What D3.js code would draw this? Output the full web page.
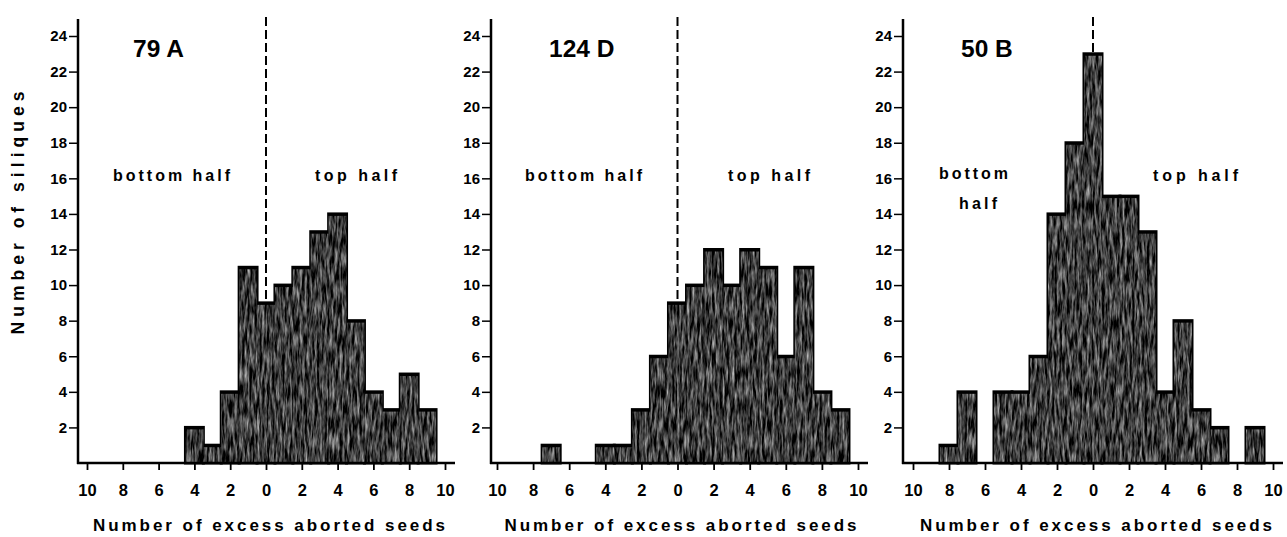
<!DOCTYPE html>
<html>
<head>
<meta charset="utf-8">
<script src="https://cdn.jsdelivr.net/npm/d3@7"></script>
<style>
  body { margin: 0; background: #fff; }
  svg text { font-family: "Liberation Sans", Arial, sans-serif; fill: #000; }
</style>
</head>
<body>
<div id="chart"></div>
<script>
// excess aborted seeds: negative = bottom half, positive = top half
const bins = [-10, -9, -8, -7, -6, -5, -4, -3, -2, -1, 0, 1, 2, 3, 4, 5, 6, 7, 8, 9, 10];
const siliques79A  = [0, 0, 0, 0, 0, 0, 2, 1, 4, 11, 9, 10, 11, 13, 14, 8, 4, 3, 5, 3, 0];
const siliques124D = [0, 0, 0, 1, 0, 0, 1, 1, 3, 6, 9, 10, 12, 10, 12, 11, 6, 11, 4, 3, 0];
const siliques50B  = [0, 0, 1, 4, 0, 4, 4, 6, 14, 18, 23, 15, 15, 13, 4, 8, 3, 2, 0, 2, 0];
const yTicks = [2, 4, 6, 8, 10, 12, 14, 16, 18, 20, 22, 24];
const xTicks = [-10, -8, -6, -4, -2, 0, 2, 4, 6, 8, 10];
const panelNames = ['79 A', '124 D', '50 B'];

const W = 1287, H = 537;
const svg = d3.select('#chart').append('svg')
  .attr('width', W).attr('height', H);

// stippled fill for the bars
const defs = svg.append('defs');
const tex = defs.append('filter').attr('id', 'tex').attr('color-interpolation-filters', 'sRGB');
tex.append('feTurbulence').attr('type', 'fractalNoise')
  .attr('baseFrequency', '0.4 0.06').attr('numOctaves', 3).attr('seed', 4).attr('result', 'n');
tex.append('feColorMatrix').attr('in', 'n').attr('type', 'matrix')
  .attr('values', '1.2 0 0 0 -0.36  1.2 0 0 0 -0.36  1.2 0 0 0 -0.36  0 0 0 0 1').attr('result', 'g');
tex.append('feComposite').attr('in', 'g').attr('in2', 'SourceGraphic').attr('operator', 'in');

const y = d3.scaleLinear().domain([0, 24]).range([463, 36]);

const panels = [
  {name: panelNames[0], data: siliques79A,  axisX: 78,  range: [87, 445],  end: 455,
   titleX: 133, labels: [{t: 'bottom half', x: 113, y: 181, w: 117}, {t: 'top half', x: 315, y: 181, w: 82}]},
  {name: panelNames[1], data: siliques124D, axisX: 491, range: [497, 858], end: 868,
   titleX: 549, labels: [{t: 'bottom half', x: 525, y: 181, w: 117}, {t: 'top half', x: 728, y: 181, w: 82}]},
  {name: panelNames[2], data: siliques50B,  axisX: 903, range: [913, 1273], end: 1283,
   titleX: 961, labels: [{t: 'bottom', x: 939, y: 179, w: 69}, {t: 'half', x: 959, y: 209, w: 38},
                         {t: 'top half', x: 1153, y: 181, w: 85}]}
];

panels.forEach(p => {
  const g = svg.append('g');
  const x = d3.scaleLinear().domain([-10, 10]).range(p.range);
  const bw = x(1) - x(0);
  const rows = bins.map((b, i) => ({bin: b, n: p.data[i]})).filter(d => d.n > 0);

  // dashed divider at zero
  g.append('line')
    .attr('x1', x(0)).attr('x2', x(0)).attr('y1', 17).attr('y2', y(0))
    .attr('stroke', '#000').attr('stroke-width', 2).attr('stroke-dasharray', '9,4');

  // bar outlines, then textured fills on top so only the silhouette stays outlined
  g.append('g').selectAll('rect').data(rows).join('rect')
    .attr('x', d => x(d.bin) - bw / 2).attr('width', bw)
    .attr('y', d => y(d.n)).attr('height', d => y(0) - y(d.n))
    .attr('fill', '#000').attr('stroke', '#000').attr('stroke-width', 3);
  g.append('g').attr('filter', 'url(#tex)').selectAll('rect').data(rows).join('rect')
    .attr('x', d => x(d.bin) - bw / 2).attr('width', bw)
    .attr('y', d => y(d.n) + 2).attr('height', d => y(0) - y(d.n) - 2)
    .attr('fill', '#333');

  // y axis
  const ya = g.append('g').attr('transform', `translate(${p.axisX},0)`)
    .call(d3.axisLeft(y).tickValues(yTicks).tickSize(9).tickPadding(2));
  ya.select('.domain').remove();
  ya.selectAll('.tick line').attr('stroke', '#000').attr('stroke-width', 1.5);
  ya.selectAll('.tick text').attr('font-size', 15).attr('font-weight', 'bold');
  g.append('line').attr('x1', p.axisX).attr('x2', p.axisX).attr('y1', 19).attr('y2', y(0) + 1)
    .attr('stroke', '#000').attr('stroke-width', 2.5);

  // x axis
  const xa = g.append('g').attr('transform', `translate(0,${y(0)})`)
    .call(d3.axisBottom(x).tickValues(xTicks).tickFormat(d => Math.abs(d)).tickSize(7).tickPadding(14));
  xa.select('.domain').remove();
  xa.selectAll('.tick line').attr('stroke', '#000').attr('stroke-width', 1.8);
  xa.selectAll('.tick text').attr('font-size', 16.5).attr('font-weight', 'bold');
  g.append('line').attr('x1', p.axisX - 1).attr('x2', p.end).attr('y1', y(0)).attr('y2', y(0))
    .attr('stroke', '#000').attr('stroke-width', 2.5);

  g.append('text').attr('x', (p.range[0] + p.range[1]) / 2 + 3).attr('y', 531)
    .attr('text-anchor', 'middle').attr('font-size', 17).attr('font-weight', 'bold')
    .attr('textLength', 352).attr('lengthAdjust', 'spacing')
    .text('Number of excess aborted seeds');

  g.append('text').attr('x', p.titleX).attr('y', 57)
    .attr('font-size', 24.5).attr('font-weight', 'bold')
    .text(p.name);

  p.labels.forEach(l => {
    g.append('text').attr('x', l.x).attr('y', l.y)
      .attr('font-size', 16).attr('font-weight', 'bold')
      .attr('textLength', l.w).attr('lengthAdjust', 'spacing')
      .text(l.t);
  });
});

svg.append('text').attr('transform', 'translate(24,213) rotate(-90)')
  .attr('text-anchor', 'middle').attr('font-size', 17.5).attr('font-weight', 'bold')
  .attr('textLength', 243).attr('lengthAdjust', 'spacing')
  .text('Number of siliques');
</script>
</body>
</html>
